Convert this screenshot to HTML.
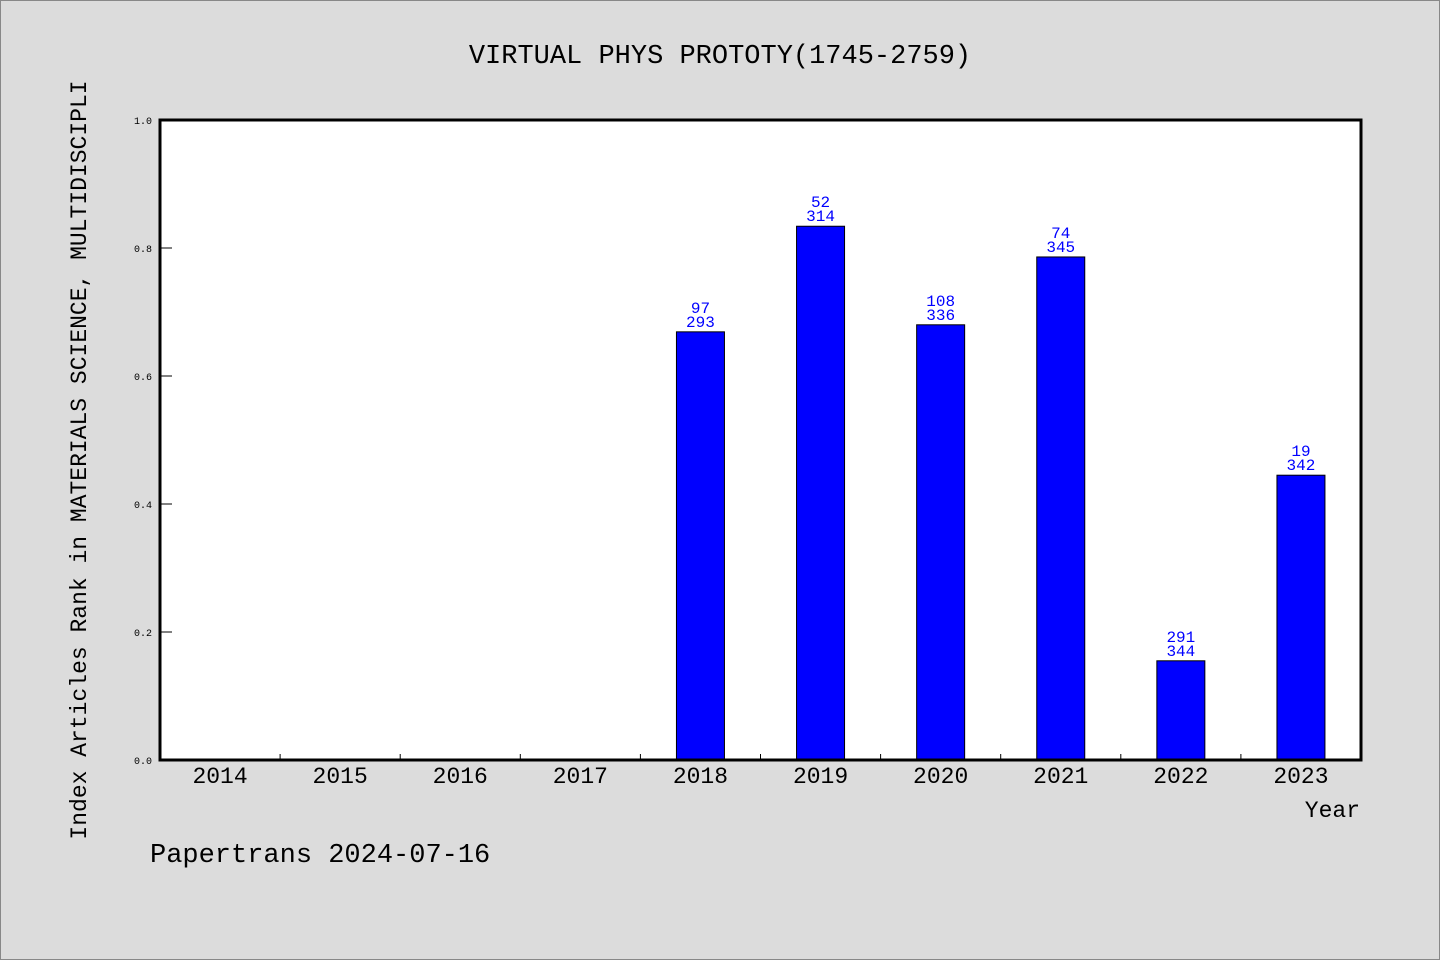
<!DOCTYPE html>
<html><head><meta charset="utf-8"><style>
html,body{margin:0;padding:0;background:#dcdcdc;}
svg{display:block;}
text{font-family:"Liberation Mono","Noto Sans CJK SC",monospace;}
</style></head><body>
<svg id="chart" width="1440" height="960" xmlns="http://www.w3.org/2000/svg">
<rect x="0.5" y="0.5" width="1439" height="959" fill="#dcdcdc" stroke="#888"/>
<text x="720" y="63" text-anchor="middle" font-size="27">VIRTUAL PHYS PROTOTY(1745-2759)</text>
<rect x="160" y="120" width="1201" height="640" fill="#fff"/>
<g id="yaxis"></g>
<g id="xaxis"></g>
<g id="bars"></g>
<rect x="160" y="120" width="1201" height="640" fill="none" stroke="#000" stroke-width="3"/>
<text transform="translate(86,460) rotate(-90)" text-anchor="middle" font-size="23">Index Articles Rank in MATERIALS SCIENCE, MULTIDISCIPLI</text>
<text x="1360" y="817" text-anchor="end" font-size="23">Year</text>
<text x="150" y="862" font-size="27">Papertrans 2024-07-16</text>
</svg>
<script>
const categories=["2014","2015","2016","2017","2018","2019","2020","2021","2022","2023"];
const values=[null,null,null,null,0.669,0.834,0.680,0.786,0.155,0.445];
const ranks=[null,null,null,null,97,52,108,74,291,19];
const totals=[null,null,null,null,293,314,336,345,344,342];
const yTicks=["0.0","0.2","0.4","0.6","0.8","1.0"];
const NS="http://www.w3.org/2000/svg";
const X0=160,W=1201,Y0=760,H=640;
const band=W/categories.length;
const xs=i=>X0+band*(i+0.5);
const ys=v=>Y0-v*H;
function mk(tag,attrs,parent,txt){const e=document.createElementNS(NS,tag);for(const k in attrs)e.setAttribute(k,attrs[k]);if(txt!=null)e.textContent=txt;parent.appendChild(e);return e;}
const ya=document.getElementById('yaxis'),xa=document.getElementById('xaxis'),bg=document.getElementById('bars');
yTicks.forEach(t=>{const v=parseFloat(t);
 const l=mk('line',{x1:X0,x2:X0+12,y1:ys(v),y2:ys(v),stroke:'#000','stroke-width':1},ya);
 
 
 const tx=mk('text',{x:X0-8,y:ys(v)+4,'text-anchor':'end','font-size':10,'font-family':'Liberation Sans'},ya,t);
 
 
});
categories.forEach((c,i)=>{
 if(i>0){const l=mk('line',{x1:X0+band*i,x2:X0+band*i,y1:Y0,y2:Y0-6,stroke:'#000','stroke-width':1},xa);
 
 }
 const tx=mk('text',{x:xs(i),y:Y0+23,'text-anchor':'middle','font-size':23,'font-family':'Liberation Sans'},xa,c);
 
 
 const v=values[i]; if(v==null)return;
 const r=mk('rect',{x:xs(i)-24,y:ys(v),width:48,height:Y0-ys(v),fill:'#0000ff',stroke:'#000','stroke-width':1},bg);
 
 
 const t1=mk('text',{x:xs(i),y:ys(v)-19,'text-anchor':'middle','font-size':16,fill:'#0000ff','font-family':'Liberation Sans'},bg,String(ranks[i]));
 
 
 const t2=mk('text',{x:xs(i),y:ys(v)-5,'text-anchor':'middle','font-size':16,fill:'#0000ff','font-family':'Liberation Sans'},bg,String(totals[i]));
 
 
});
</script>
</body></html>
